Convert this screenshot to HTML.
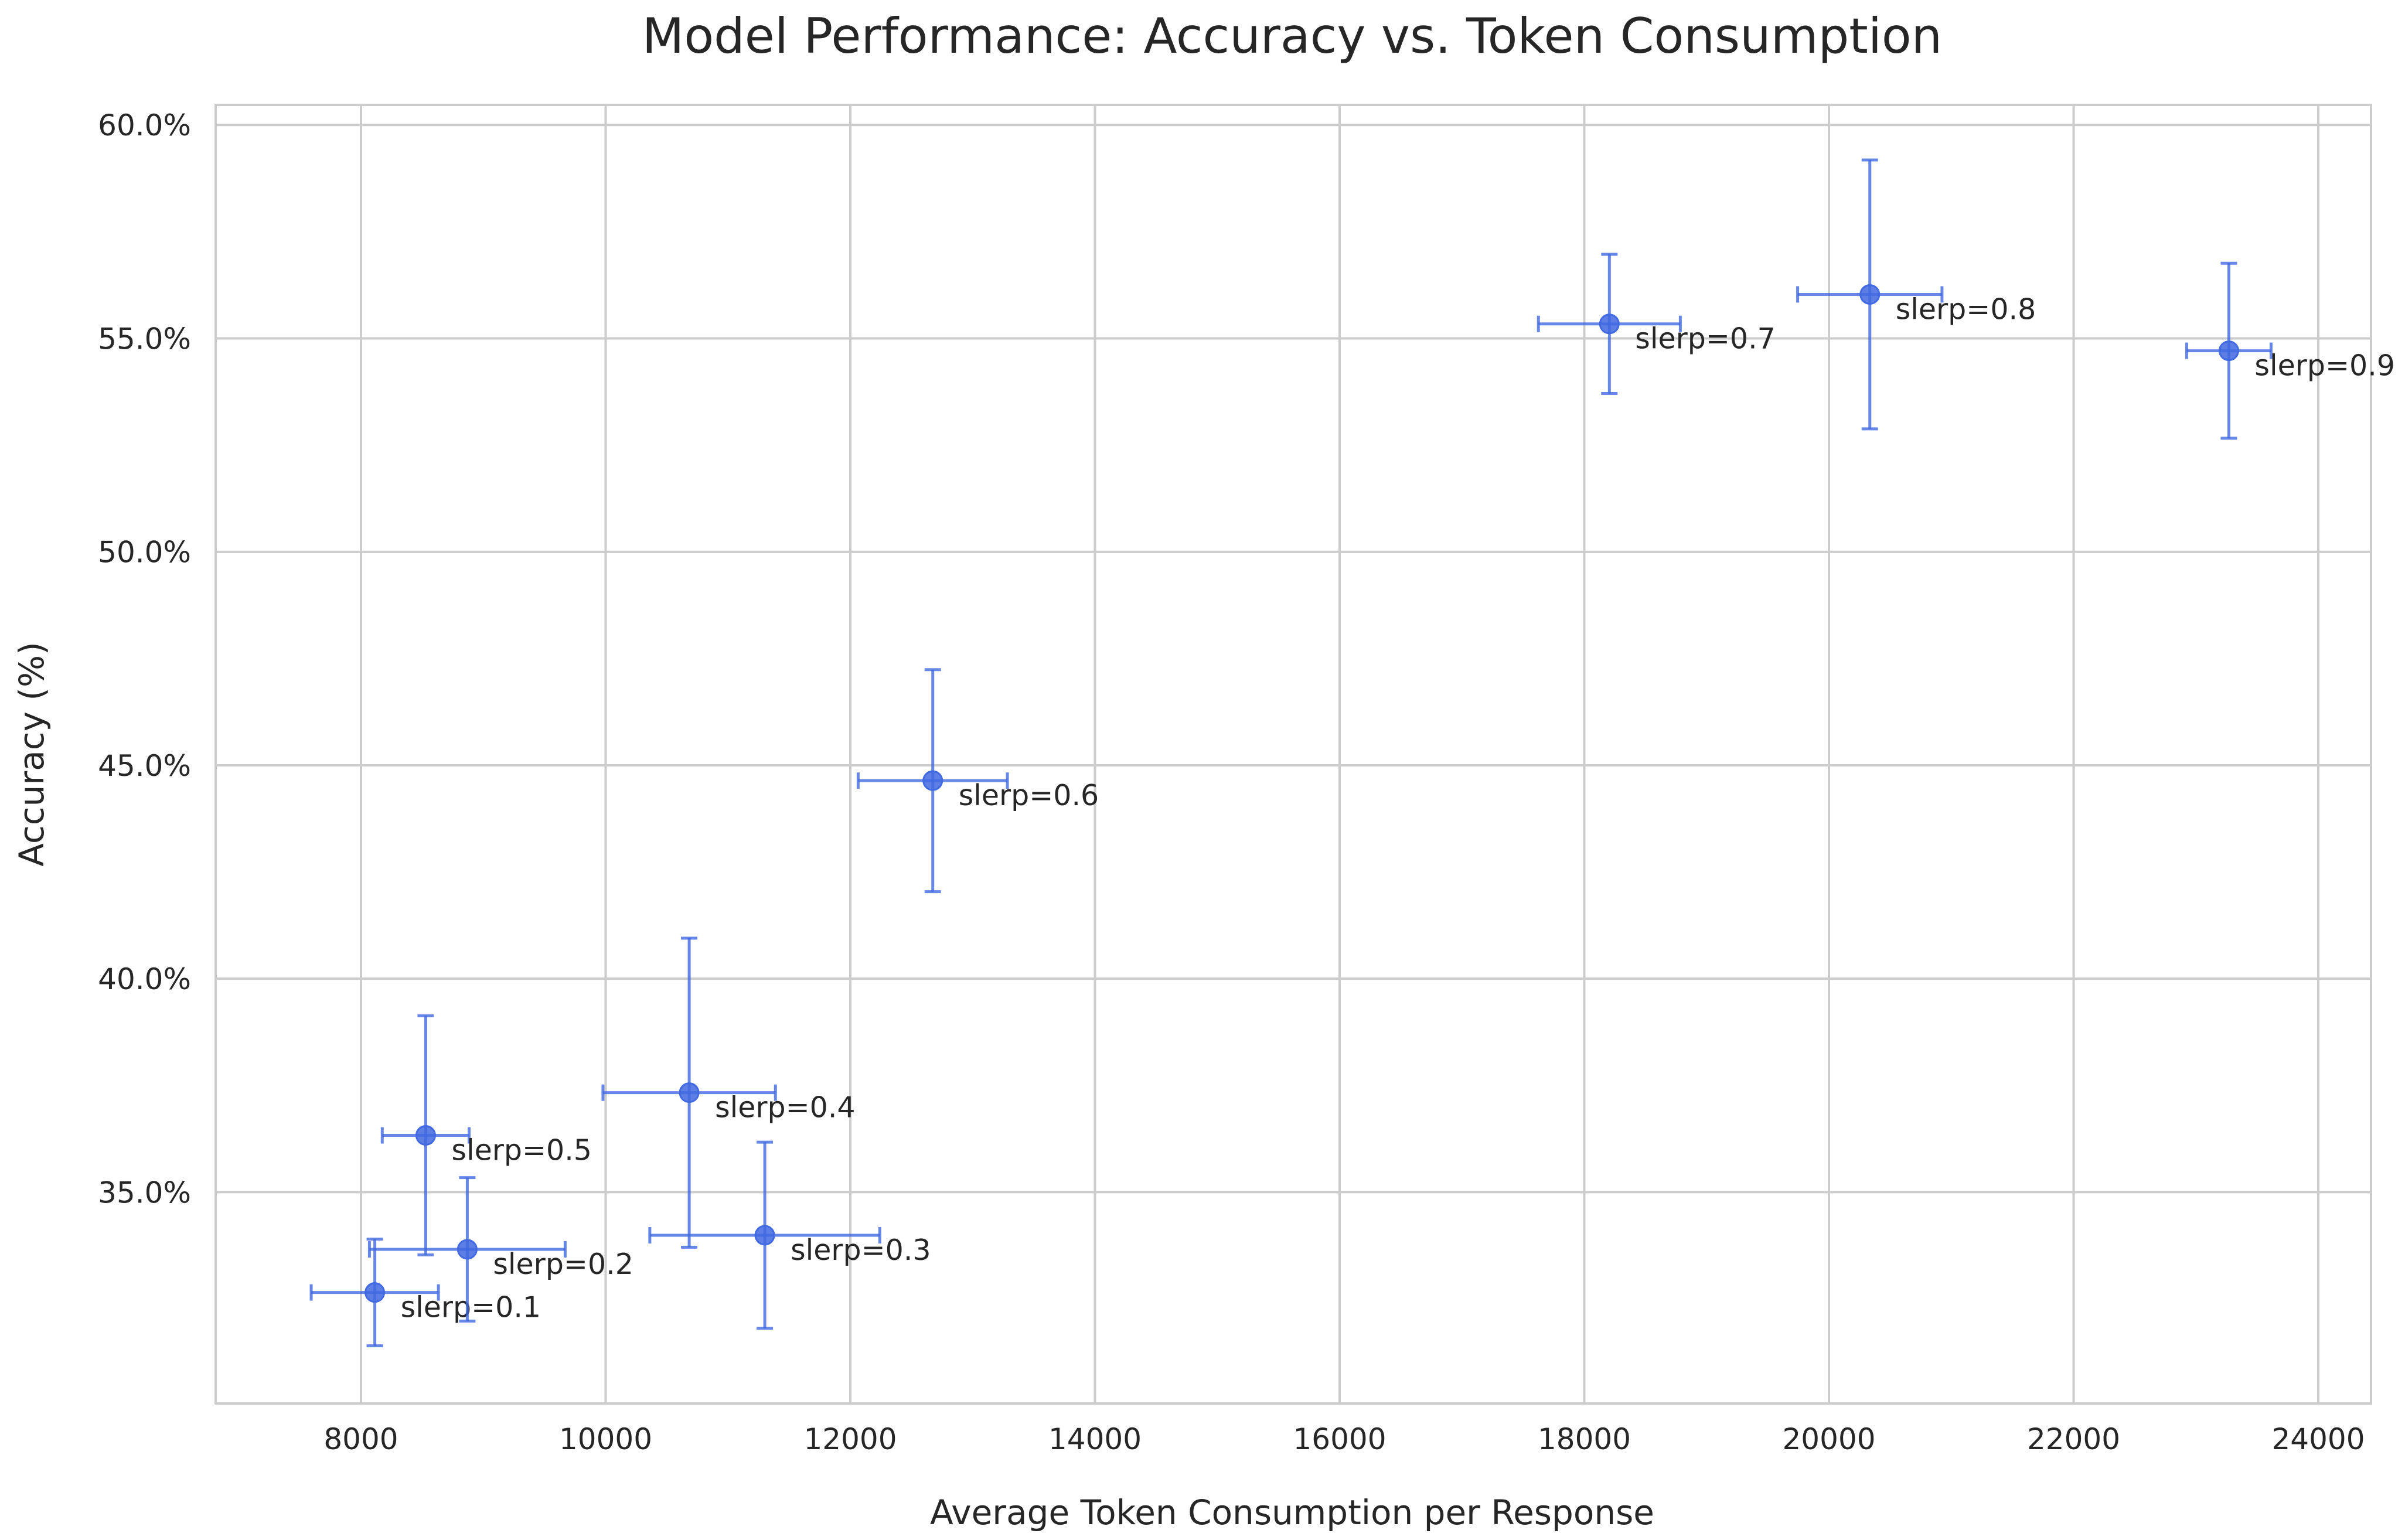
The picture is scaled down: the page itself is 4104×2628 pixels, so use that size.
<!DOCTYPE html>
<html><head><meta charset="utf-8"><style>
html,body{margin:0;padding:0;background:#fff;}
svg{display:block;font-family:"DejaVu Sans","Liberation Sans",sans-serif;}
</style></head><body>
<svg id="chart" width="4104" height="2628" viewBox="0 0 4104 2628" xmlns="http://www.w3.org/2000/svg">
<rect width="4104" height="2628" fill="#fff"/>
<text x="2205" y="90" font-size="83" text-anchor="middle" fill="#262626">Model Performance: Accuracy vs. Token Consumption</text>
<g id="grid"></g>
<rect x="368" y="179" width="3678" height="2216" fill="none" stroke="#cccccc" stroke-width="4"/>
<g id="ticks"></g>
<g id="marks"></g>
<text x="2205" y="2601" font-size="58" text-anchor="middle" fill="#262626">Average Token Consumption per Response</text>
<text transform="translate(74,1287) rotate(-90)" font-size="58" text-anchor="middle" fill="#262626">Accuracy (%)</text>
</svg>
<script>
const labels = ["slerp=0.1","slerp=0.2","slerp=0.3","slerp=0.4","slerp=0.5","slerp=0.6","slerp=0.7","slerp=0.8","slerp=0.9"];
const tokens = [8113,8869,11301,10683,8529,12674,18205,20334,23269];
const tokenErr = [520,800,940,705,355,610,580,590,345];
const accuracy = [32.65,33.66,33.99,37.33,36.33,44.64,55.34,56.03,54.71];
const accErr = [1.25,1.68,2.18,3.62,2.8,2.6,1.63,3.15,2.05];
const xTicks = [8000,10000,12000,14000,16000,18000,20000,22000,24000];
const yTicks = [35,40,45,50,55,60];

const L=368,R=4046,T=179,B=2395;
const xMin=6812,xMax=24431,yMin=30.05,yMax=60.47;
const xs=v=>L+(v-xMin)/(xMax-xMin)*(R-L);
const ys=v=>B-(v-yMin)/(yMax-yMin)*(B-T);
const NS="http://www.w3.org/2000/svg";
function mk(tag,attrs,parent){const e=document.createElementNS(NS,tag);for(const k in attrs)e.setAttribute(k,attrs[k]);parent.appendChild(e);return e;}
const grid=document.getElementById('grid'),ticks=document.getElementById('ticks'),marks=document.getElementById('marks');
xTicks.forEach(v=>{
  const g=mk('line',{x1:xs(v),x2:xs(v),y1:T,y2:B,stroke:'#cccccc','stroke-width':4},grid);
  
  
  const t=mk('text',{x:xs(v),y:2473,'font-size':50,'text-anchor':'middle',fill:'#262626'},ticks);
  t.textContent=v;
  
  
});
yTicks.forEach(v=>{
  const g=mk('line',{x1:L,x2:R,y1:ys(v),y2:ys(v),stroke:'#cccccc','stroke-width':4},grid);
  
  
  const t=mk('text',{x:326,y:ys(v)+18,'font-size':50,'text-anchor':'end',fill:'#262626'},ticks);
  t.textContent=v.toFixed(1)+'%';
  
  
});
const col='#4169E1',cap=14;
tokens.forEach((xv,i)=>{
  const g=mk('g',{stroke:col,'stroke-width':5,'stroke-opacity':0.8,fill:'none'},marks);
  
  
  const cx=xs(xv),cy=ys(accuracy[i]);
  const x0=xs(xv-tokenErr[i]),x1=xs(xv+tokenErr[i]);
  const y0=ys(accuracy[i]-accErr[i]),y1=ys(accuracy[i]+accErr[i]);
  mk('line',{x1:x0,x2:x1,y1:cy,y2:cy},g);
  mk('line',{x1:x0,x2:x0,y1:cy-cap,y2:cy+cap},g);
  mk('line',{x1:x1,x2:x1,y1:cy-cap,y2:cy+cap},g);
  mk('line',{x1:cx,x2:cx,y1:y0,y2:y1},g);
  mk('line',{x1:cx-cap,x2:cx+cap,y1:y0,y2:y0},g);
  mk('line',{x1:cx-cap,x2:cx+cap,y1:y1,y2:y1},g);
  const c=mk('circle',{cx:cx,cy:cy,r:16,fill:col,'fill-opacity':0.85,stroke:col,'stroke-width':3},marks);
  
  
  const t=mk('text',{x:cx+44,y:cy+42,'font-size':49,fill:'#262626'},marks);
  t.textContent=labels[i];
  
  
});
</script>
</body></html>
